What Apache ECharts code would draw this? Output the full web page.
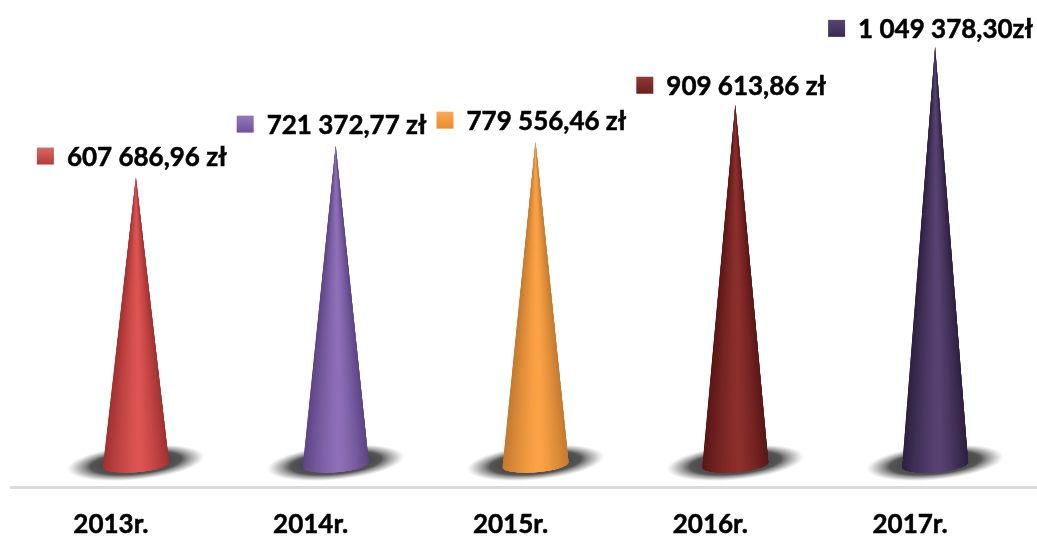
<!DOCTYPE html>
<html><head><meta charset="utf-8">
<style>html,body{margin:0;padding:0;background:#fff}#c{width:1037px;height:538px}</style>
<script src="https://cdn.jsdelivr.net/npm/echarts@6/dist/echarts.min.js"></script>
</head><body><div id="c"></div>
<script>
const years = ['2013r.', '2014r.', '2015r.', '2016r.', '2017r.'];
const amountLabels = ['607 686,96 zł', '721 372,77 zł', '779 556,46 zł', '909 613,86 zł', '1 049 378,30zł'];
// Drawn cone heights (height above the baseline).
const coneHeights = [309, 341, 345, 382, 440];
const edgeColors = ['#a03231', '#5d4585', '#c47a30', '#5a1716', '#2e2041'];
const midColors = ['#de5553', '#8f70b9', '#fda346', '#8d302d', '#584272'];
const keyTop = ['#d46a67', '#9478b8', '#fba95c', '#8e3a38', '#594673'];
const keyBottom = ['#b53a38', '#7050a0', '#f08a28', '#6a1f1d', '#3a2a50'];

const FAMILY = 'Lato, Carlito, sans-serif';
const FONT = 'bold 26px ' + FAMILY;
const chart = echarts.init(document.getElementById('c'));

function shade(i, u) {
  // u runs 0..1 across the cone, brightest just right of its middle
  const d = u < 0.55 ? (0.55 - u) / 0.55 : (u - 0.55) / 0.45;
  return echarts.color.lerp(Math.pow(d, 1.3), [midColors[i], edgeColors[i]]);
}

function renderCone(params, api) {
  const i = api.value(0);
  const tip = api.coord([i, api.value(1)]);
  const foot = api.coord([i, 0]);
  const cx = tip[0], cy = foot[1] - 21, rx = 33, ry = 7.5;
  const N = 36;
  const rim = k => {
    const t = Math.PI * k / N;
    return [cx - rx * Math.cos(t), cy + ry * Math.sin(t) + 2.5 * Math.cos(t)];
  };
  const shadow = new echarts.graphic.RadialGradient(0.5, 0.5, 0.5, [
    { offset: 0, color: 'rgba(30,30,30,0.95)' },
    { offset: 0.66, color: 'rgba(55,55,55,0.85)' },
    { offset: 0.86, color: 'rgba(110,110,110,0.4)' },
    { offset: 1, color: 'rgba(150,150,150,0)' }
  ]);
  const children = [
    { type: 'circle', x: cx, y: cy - 2, scaleY: 0.25, rotation: 0.095,
      shape: { cx: 0, cy: 0, r: 69 }, style: { fill: shadow } }
  ];
  // Overlapping slices, painted left to right, so no seams show between them.
  for (let k = 0; k < N; k++) {
    const pts = [[cx, tip[1]]];
    for (let j = k; j <= Math.min(N, k + 4); j++) pts.push(rim(j));
    const c = shade(i, (rim(k)[0] + rim(k + 1)[0] - 2 * cx + 2 * rx) / (4 * rx));
    children.push({ type: 'polygon', shape: { points: pts }, style: { fill: c } });
  }
  const markY = tip[1] - 22 + (i === 4 ? 3 : i === 3 ? 2 : 0);
  const labelX = cx - (i === 4 ? 77 : 69);
  children.push(
    { type: 'rect', shape: { x: labelX - 30, y: markY - 8, width: 17, height: 17 },
      style: {
        fill: new echarts.graphic.LinearGradient(0, 0, 0, 1, [
          { offset: 0, color: keyTop[i] }, { offset: 1, color: keyBottom[i] }
        ])
      } },
    { type: 'text', style: {
        x: labelX, y: markY + 2, text: amountLabels[i], font: FONT, fill: '#000',
        stroke: '#000', lineWidth: 0.5,
        textAlign: 'left', textVerticalAlign: 'middle'
      } }
  );
  return { type: 'group', children };
}

chart.setOption({
  animation: false,
  backgroundColor: '#fff',
  grid: { left: 36, width: 999, top: 0, height: 487 },
  xAxis: {
    type: 'category', data: years,
    axisLine: { show: false }, axisTick: { show: false },
    axisLabel: { color: '#000', fontFamily: FAMILY, fontWeight: 'bold', fontSize: 26,
      textBorderColor: '#000', textBorderWidth: 0.5,
      margin: 26, padding: [0, 50, 0, 0] }
  },
  yAxis: { type: 'value', min: 0, max: 487, show: false },
  graphic: [{ type: 'rect', left: 10, top: 486, shape: { width: 1027, height: 3 },
    style: { fill: '#dcdcdc' }, silent: true }],
  series: [{
    type: 'custom', clip: false, renderItem: renderCone,
    data: coneHeights.map((h, i) => [i, h]),
    encode: { x: 0, y: 1 }
  }]
});
</script></body></html>
